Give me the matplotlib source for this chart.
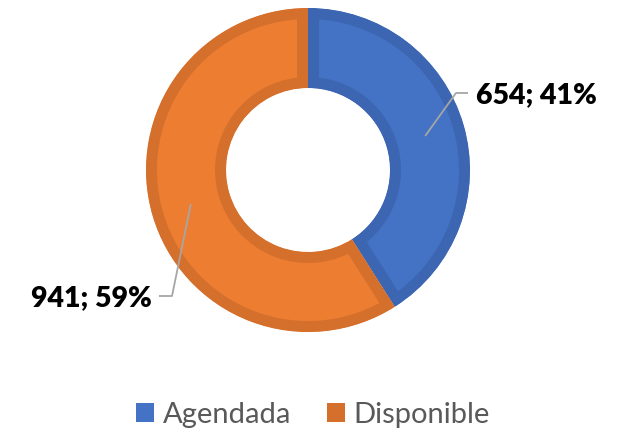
import numpy as np
import matplotlib
matplotlib.use("Agg")
import matplotlib.pyplot as plt
from matplotlib.patches import Patch

categories = ["Agendada", "Disponible"]
values = [654, 941]
fill_colors = ["#4472C4", "#ED7D31"]
edge_colors = ["#3D66B2", "#D5702C"]

W, H = 626, 433
fig = plt.figure(figsize=(W / 100, H / 100), dpi=100)
ax = fig.add_axes([0, 0, 1, 1])

cx, cy = 308, H - 170
R = 162
r_in = 82

wedges, _ = ax.pie(values, colors=fill_colors, startangle=90, counterclock=False,
                   radius=R, center=(cx, cy), wedgeprops=dict(width=R - r_in))
for w, ec in zip(wedges, edge_colors):
    w.set_edgecolor(ec)
    w.set_linewidth(22 * 72 / 100)
    w.set_joinstyle("miter")
    w.set_clip_on(True)
    w.set_clip_path(w)

ax.set_xlim(0, W)
ax.set_ylim(0, H)
ax.set_aspect("equal")
ax.axis("off")

total = sum(values)
label_font = dict(family=["Lato", "DejaVu Sans"], weight="heavy", size=20.5, color="black")
layouts = [
    dict(elbow=(456, 93), end=(468, 93), text=(476, 95), ha="left"),
    dict(elbow=(172, 296), end=(159, 296), text=(152, 298), ha="right"),
]
rmid = (R + r_in) / 2
for w, v, lay in zip(wedges, values, layouts):
    ang = np.deg2rad((w.theta1 + w.theta2) / 2)
    ax0 = cx + rmid * np.cos(ang)
    ay0 = cy + rmid * np.sin(ang)
    xs = [ax0, lay["elbow"][0], lay["end"][0]]
    ys = [ay0, H - lay["elbow"][1], H - lay["end"][1]]
    ax.plot(xs, ys, color="#A6A6A6", lw=1.3, solid_capstyle="butt")
    pct = round(100 * v / total)
    ax.text(lay["text"][0], H - lay["text"][1], f"{v}; {pct}%", ha=lay["ha"],
            va="center", **label_font)

handles = [Patch(facecolor=fill_colors[0]), Patch(facecolor=edge_colors[1])]
leg = fig.legend(handles, categories, loc="center", bbox_to_anchor=(313 / W, 1 - 415 / H),
                 ncol=2, frameon=False, handlelength=0.62, handleheight=0.62,
                 handletextpad=0.3, columnspacing=1.2,
                 prop=dict(family=["Lato", "DejaVu Sans"], size=21))
for t in leg.get_texts():
    t.set_color("#595959")

fig.savefig("out.png", dpi=100)
